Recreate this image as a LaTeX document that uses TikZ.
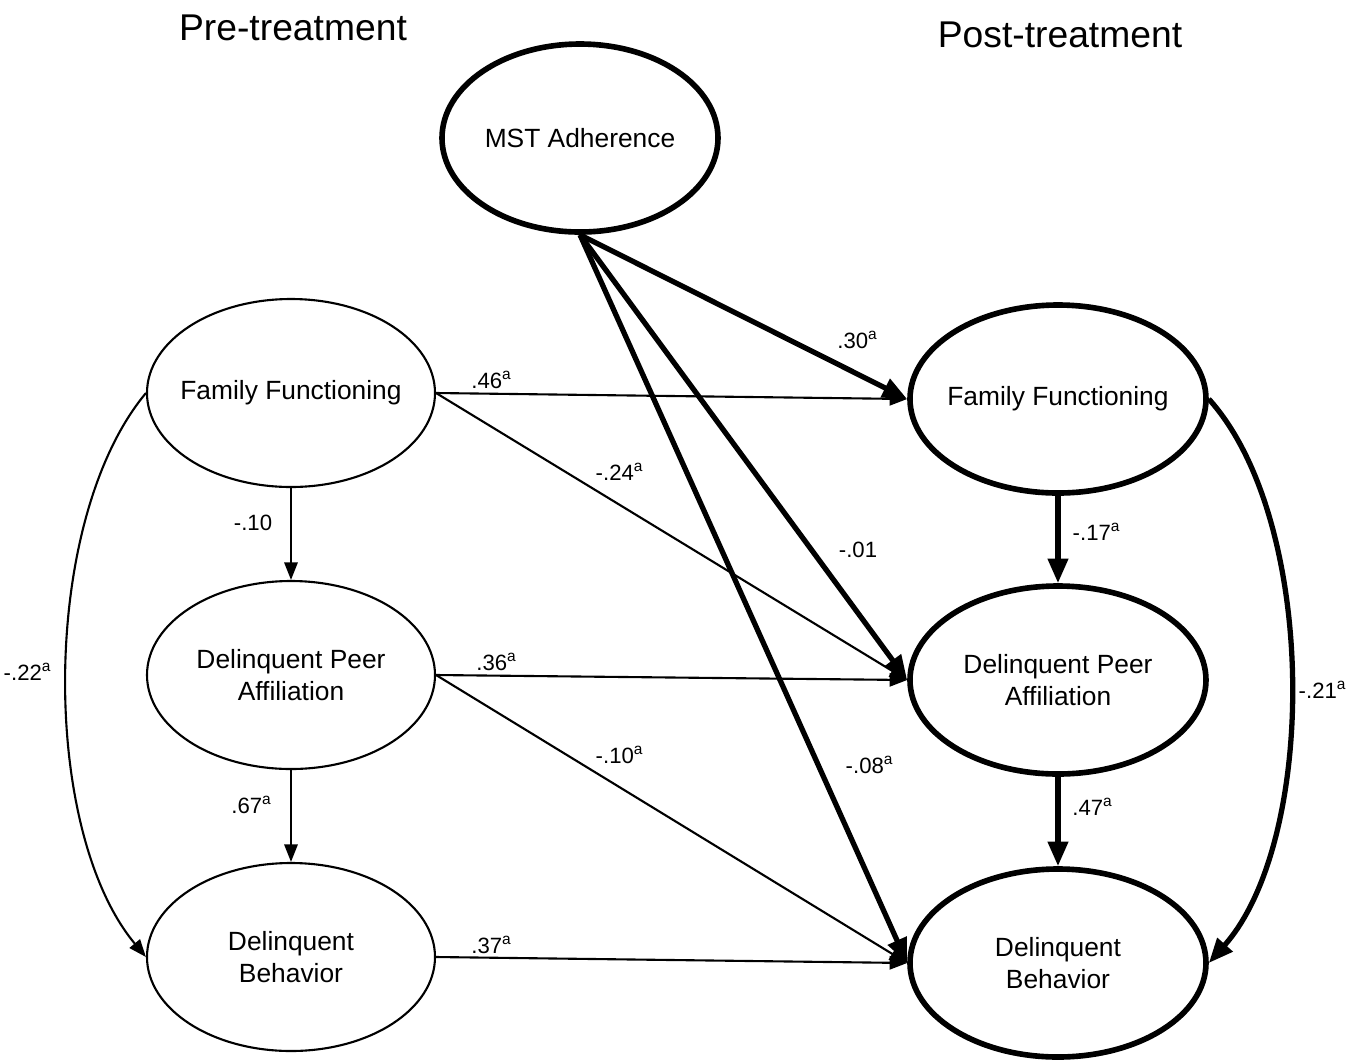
\documentclass[tikz,border=0pt]{standalone}
\usepackage{fontspec}
\setmainfont{Liberation Sans}
\usetikzlibrary{shapes.geometric,arrows.meta}
\tikzset{
  var/.style={ellipse,draw,line width=0.6pt,inner xsep=-5mm,inner ysep=-2mm,minimum width=2.88cm,minimum height=1.88cm,align=center,font=\fontsize{7.5}{9}\selectfont},
  bigvar/.style={var,line width=1.6pt,minimum width=2.96cm},
  thin/.style={line width=0.6pt,-{Triangle[length=5pt,width=3.8pt]}},
  thick/.style={line width=1.5pt,-{Triangle[length=7pt,width=5.6pt]}},
  coef/.style={font=\fontsize{6.3}{7}\selectfont,inner sep=1pt},
  title/.style={font=\fontsize{10.6}{12}\selectfont}
}
\newcommand{\sig}{\textsuperscript{a}}
\begin{document}
\begin{tikzpicture}
        \useasboundingbox (0,0) rectangle (13.61,-10.61);
        \node[title] (pretitle) at (2.93,-0.28) {Pre-treatment};
        \node[title] (posttitle) at (10.60,-0.35) {Post-treatment};

        \node[bigvar,minimum width=2.76cm] (mst) at (5.80,-1.38) {MST Adherence};
        \node[var] (ffpre) at (2.91,-3.93) {Family Functioning};
        \node[var] (dppre) at (2.91,-6.75) {Delinquent Peer\\Affiliation};
        \node[var] (dbpre) at (2.91,-9.57) {Delinquent\\Behavior};
        \node[bigvar] (ffpost) at (10.58,-3.99) {Family Functioning};
        \node[bigvar] (dppost) at (10.58,-6.80) {Delinquent Peer\\Affiliation};
        \node[bigvar] (dbpost) at (10.58,-9.63) {Delinquent\\Behavior};

        \draw[thin] (ffpre) -- (dppre);
        \draw[thin] (dppre) -- (dbpre);
        \draw[thin] (ffpre.east) -- (ffpost.west);
        \draw[thin] (ffpre.east) -- (dppost.west);
        \draw[thin] (dppre.east) -- (dppost.west);
        \draw[thin] (dppre.east) -- (dbpost.west);
        \draw[thin] (dbpre.east) -- (dbpost.west);
        \draw[thin] (ffpre.west) .. controls (0.40,-5.20) and (0.40,-8.30) .. (dbpre.west);

        \draw[thick] (mst.south) -- (ffpost.west);
        \draw[thick] (mst.south) -- (dppost.west);
        \draw[thick] (mst.south) -- (dbpost.west);
        \draw[thick] (ffpost) -- (dppost);
        \draw[thick] (dppost) -- (dbpost);
        \draw[thick] (ffpost.east) .. controls (13.18,-5.20) and (13.18,-8.40) .. (dbpost.east);

        \node[coef] (c1) at (8.58,-3.40) {.30\sig};
        \node[coef] (c2) at (4.92,-3.80) {.46\sig};
        \node[coef] (c3) at (6.20,-4.72) {-.24\sig};
        \node[coef] (c4) at (2.53,-5.23) {-.10};
        \node[coef] (c5) at (8.58,-5.50) {-.01};
        \node[coef] (c6) at (10.97,-5.32) {-.17\sig};
        \node[coef] (c7) at (0.28,-6.72) {-.22\sig};
        \node[coef] (c8) at (4.97,-6.62) {.36\sig};
        \node[coef] (c9) at (6.20,-7.55) {-.10\sig};
        \node[coef] (c10) at (8.70,-7.65) {-.08\sig};
        \node[coef] (c11) at (10.93,-8.07) {.47\sig};
        \node[coef] (c12) at (13.23,-6.90) {-.21\sig};
        \node[coef] (c13) at (2.52,-8.05) {.67\sig};
        \node[coef] (c14) at (4.92,-9.45) {.37\sig};
      \end{tikzpicture}
\end{document}
